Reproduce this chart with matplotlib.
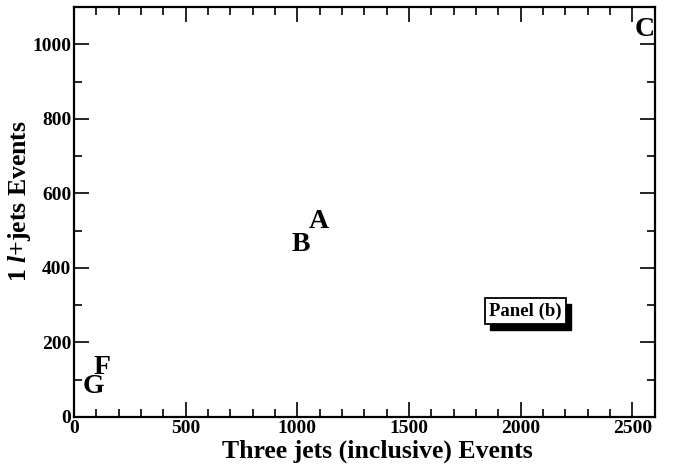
import matplotlib
matplotlib.use("Agg")
import matplotlib.pyplot as plt
from matplotlib.ticker import MultipleLocator
from matplotlib.patches import Rectangle

labels = ["A", "B", "C", "F", "G"]
three_jets = [1098, 1013, 2553, 125, 85]
lepton_jets = [524, 462, 1040, 132, 81]

x_ticks = [0, 500, 1000, 1500, 2000, 2500]
y_ticks = [0, 200, 400, 600, 800, 1000]

plt.rcParams['font.family'] = ['Liberation Serif', 'DejaVu Serif']
plt.rcParams['font.weight'] = 'bold'
plt.rcParams['mathtext.fontset'] = 'custom'
plt.rcParams['mathtext.it'] = 'Liberation Serif:italic:bold'
plt.rcParams['mathtext.rm'] = 'Liberation Serif:bold'

fig = plt.figure(figsize=(6.73, 4.73), dpi=100)
ax = fig.add_axes([0.110, 0.1184, 0.863, 0.8666])

for lab, x, y in zip(labels, three_jets, lepton_jets):
    ax.text(x, y, lab, ha='center', va='center', fontsize=20, fontweight='bold', clip_on=True)

ax.set_xlim(0, 2600)
ax.set_ylim(0, 1100)
ax.set_xticks(x_ticks)
ax.set_yticks(y_ticks)
ax.set_xticklabels([str(t) for t in x_ticks])
ax.set_yticklabels([str(t) for t in y_ticks])
ax.xaxis.set_minor_locator(MultipleLocator(100))
ax.yaxis.set_minor_locator(MultipleLocator(100))
ax.tick_params(which='both', direction='in', top=True, right=True, labelsize=14, width=1.2)
ax.tick_params(which='major', length=11, pad=2)
ax.tick_params(which='minor', length=5.5)
for lbl in ax.get_xticklabels() + ax.get_yticklabels():
    lbl.set_fontweight('bold')
for s in ax.spines.values():
    s.set_linewidth(1.6)

ax.set_xlabel("Three jets (inclusive) Events", fontsize=18.5, fontweight='bold')
ax.set_ylabel("1 $\\mathit{l}$+jets Events", fontsize=18.5, fontweight='bold')
ax.xaxis.set_label_coords(0.523, -0.055, transform=ax.transAxes)
ax.yaxis.set_label_coords(-0.071, 0.527, transform=ax.transAxes)
ax.xaxis.label.set_va('top')

# Panel label with drop shadow
bx, by, bw, bh = 0.7074, 0.2268, 0.1394, 0.0634
sdx, sdy = 0.0086, -0.0146
ax.add_patch(Rectangle((bx + sdx, by + sdy), bw, bh, transform=ax.transAxes,
                       facecolor='black', edgecolor='black', zorder=3))
ax.add_patch(Rectangle((bx, by), bw, bh, transform=ax.transAxes,
                       facecolor='white', edgecolor='black', linewidth=1.3, zorder=4))
ax.text(bx + bw / 2, by + bh / 2, "Panel (b)", transform=ax.transAxes, ha='center', va='center',
        fontsize=13.5, fontweight='bold', zorder=5)

fig.savefig("out.png", dpi=100)
